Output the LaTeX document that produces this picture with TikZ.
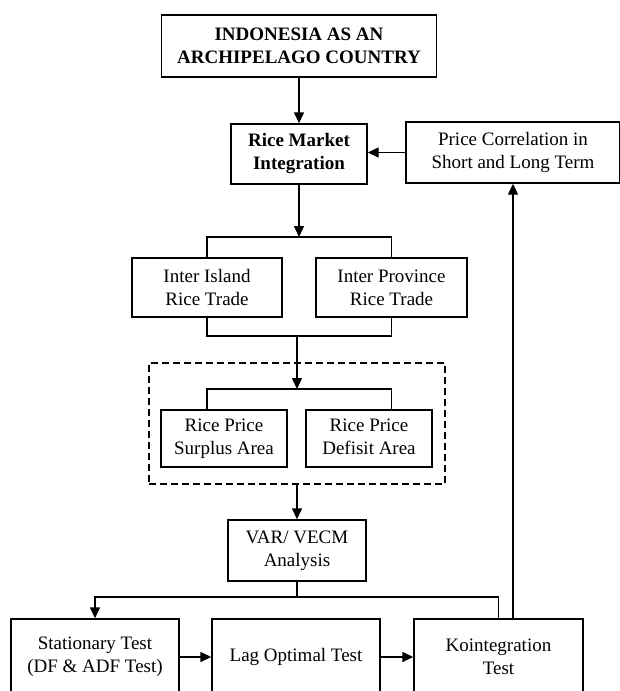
\documentclass[tikz,border=0pt]{standalone}
\usepackage{fontspec}
\setmainfont{Liberation Serif}
\usetikzlibrary{arrows.meta,calc,positioning}

\begin{document}
\begin{tikzpicture}[x=1pt,y=-1pt,
    box/.style={draw,line width=1.4pt,align=center,inner sep=0pt,
      font=\fontsize{19}{23}\selectfont},
    arr/.style={line width=1.4pt,-{Triangle[length=11pt,width=10pt]}},
    ln/.style={line width=1.4pt}]
  \useasboundingbox (0,0) rectangle (619,691);
  % top of the chart
  \node[box,minimum width=275pt,minimum height=62pt] (country) at (299,46)
    {\bfseries INDONESIA AS AN\\\bfseries ARCHIPELAGO COUNTRY};
  \node[box,minimum width=136pt,minimum height=60pt] (rmi) at (299,154)
    {\bfseries Rice Market\\\bfseries Integration};
  \node[box,minimum width=214pt,minimum height=61pt] (pc) at (513,152.5)
    {Price Correlation in\\Short and Long Term};
  % trade
  \node[box,minimum width=150pt,minimum height=59pt] (isl) at (207,287.5)
    {Inter Island\\Rice Trade};
  \node[box,minimum width=151pt,minimum height=59pt] (prov) at (391.5,287.5)
    {Inter Province\\Rice Trade};
  % price areas
  \node[draw,line width=1.4pt,dash pattern=on 7pt off 4pt,minimum width=296pt,
    minimum height=121pt] (group) at (297,423.5) {};
  \node[box,minimum width=126pt,minimum height=57pt] (surp) at (224,438.5)
    {Rice Price\\Surplus Area};
  \node[box,minimum width=126pt,minimum height=57pt] (def) at (369,438.5)
    {Rice Price\\Defisit Area\vphantom{p}};
  % analysis
  \node[box,minimum width=138pt,minimum height=61pt] (var) at (297,550.5)
    {VAR/ VECM\\Analysis};
  \node[box,minimum width=168pt,minimum height=76pt] (stat) at (95,657)
    {Stationary Test\\(DF \& ADF Test)};
  \node[box,minimum width=168pt,minimum height=76pt] (lag) at (296,657)
    {Lag Optimal Test};
  \node[box,minimum width=169pt,minimum height=76pt] (koint) at (498.5,657)
    {Kointegration\\Test};

  \coordinate (split1) at (299,237);
  \coordinate (join1) at (297,336);
  \coordinate (split2) at (297,389);
  \coordinate (split3) at (297,597);

  \draw[arr] (country) -- (rmi);
  \draw[arr] (pc.west) -- (pc.west -| rmi.east);
  \draw[arr] (rmi) -- (split1);
  \draw[ln] (isl.north) |- (split1) -| (prov.north);
  \draw[ln] (isl.south) |- (join1) -| (prov.south);
  \draw[arr] (join1) -- (split2);
  \draw[ln] (surp.north -| isl.south) |- (split2) -| (def.north -| prov.south);
  \draw[arr] (group.south) -- (var);
  \draw[ln] (var) -- (split3);
  \draw[arr] (split3) -| (stat.north);
  \draw[ln] (split3) -| (koint.north);
  \draw[arr] (stat) -- (lag);
  \draw[arr] (lag) -- (koint);
  \draw[arr] (koint.north -| pc.south) -- (pc.south);
\end{tikzpicture}
\end{document}
